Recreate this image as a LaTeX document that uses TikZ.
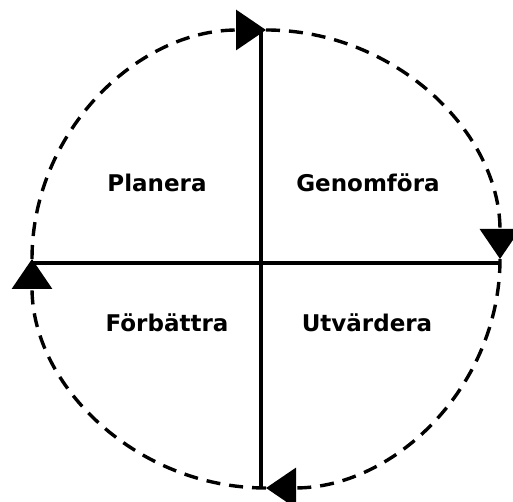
\documentclass[tikz,border=0pt]{standalone}
\usepackage{fontspec}
\setmainfont{DejaVu Sans}
\usetikzlibrary{arrows.meta}
\tikzset{
	diagram/.style={x=1pt, y=1pt, font=\fontsize{23}{27}\selectfont\bfseries},
	axel/.style={draw, line width=4.6pt},
	cykel/.style={draw, line width=3.4pt, dash pattern=on 14pt off 9pt,
	              -{Triangle[length=30pt, width=40pt]}},
	fas/.style={inner sep=2pt},
}
\begin{document}
\begin{tikzpicture}[diagram]
\useasboundingbox (0,0) rectangle (513,502);

\coordinate (mitt) at (266,243);
\coordinate (topp) at (261,472);
\coordinate (botten) at (261,14);
\coordinate (vanster) at (32,239);
\coordinate (hoger) at (500,239);

\draw[axel] (topp) -- (botten);
\draw[axel] (vanster) -- (hoger);

\draw[cykel] (mitt) ++(180:234 and 229) arc[start angle=180, end angle=90, x radius=234, y radius=229];
\draw[cykel] (mitt) ++(90:234 and 229) arc[start angle=90, end angle=0, x radius=234, y radius=229];
\draw[cykel] (mitt) ++(0:234 and 229) arc[start angle=0, end angle=-90, x radius=234, y radius=229];
\draw[cykel] (mitt) ++(-90:234 and 229) arc[start angle=-90, end angle=-180, x radius=234, y radius=229];

\node[fas] (planera) at (157,319) {Planera};
\node[fas] (genomfora) at (368,319) {Genomföra};
\node[fas] (forbattra) at (167,179) {Förbättra};
\node[fas] (utvardera) at (367,179) {Utvärdera};

\end{tikzpicture}
\end{document}
